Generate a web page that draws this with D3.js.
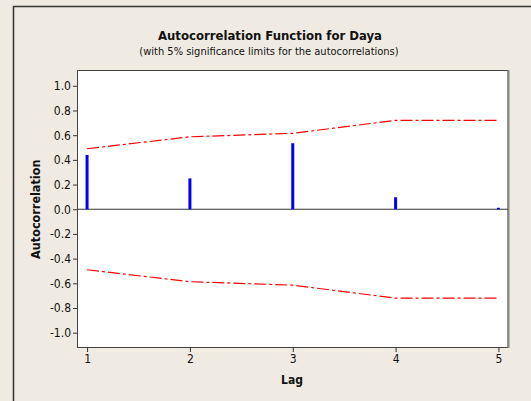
<!DOCTYPE html>
<html>
<head>
<meta charset="utf-8">
<script src="https://cdn.jsdelivr.net/npm/d3@7"></script>
<style>
  html, body { margin: 0; padding: 0; background: #efebe2; }
  svg { display: block; }
  text { font-family: "DejaVu Sans Condensed", "DejaVu Sans", sans-serif; fill: #111; }
</style>
</head>
<body>
<div id="chart"></div>
<script>
// ACF values
const lags = [1, 2, 3, 4, 5];
const acf = [0.44, 0.25, 0.535, 0.097, 0.012];
const upperLimit = [0.49, 0.587, 0.615, 0.72, 0.72];
const lowerLimit = [-0.49, -0.587, -0.615, -0.72, -0.72];
const yTicks = [1.0, 0.8, 0.6, 0.4, 0.2, 0.0, -0.2, -0.4, -0.6, -0.8, -1.0];

const W = 531, H = 401;
const plot = { left: 77.5, top: 70.5, right: 508, bottom: 347.5 };

const svg = d3.select('#chart').append('svg')
  .attr('width', W).attr('height', H);

// outer frame (left + top edges only visible)
svg.append('path')
  .attr('d', `M13.5,${H} V6.5 H${W}`)
  .attr('fill', 'none').attr('stroke', '#333').attr('stroke-width', 1.5);

const x = d3.scaleLinear().domain([0.907, 5.093]).range([plot.left, plot.right]);
const y = d3.scaleLinear().domain([-1.12, 1.124]).range([plot.bottom, plot.top]);

// plot background
svg.append('rect')
  .attr('x', plot.left).attr('y', plot.top)
  .attr('width', plot.right - plot.left).attr('height', plot.bottom - plot.top)
  .attr('fill', '#fff').attr('stroke', '#444').attr('stroke-width', 1);
svg.append('line')
  .attr('x1', plot.right + 0.5).attr('x2', plot.right + 0.5)
  .attr('y1', plot.top - 0.5).attr('y2', plot.bottom + 0.5)
  .attr('stroke', '#888').attr('stroke-width', 2);

// zero line
svg.append('line')
  .attr('x1', plot.left).attr('x2', plot.right)
  .attr('y1', y(0)).attr('y2', y(0))
  .attr('stroke', '#333').attr('stroke-width', 1.2);

// significance limits
const lim = d3.line().x((d, i) => x(lags[i])).y(d => y(d));
[upperLimit, lowerLimit].forEach(arr => {
  svg.append('path')
    .attr('d', lim(arr))
    .attr('fill', 'none')
    .attr('stroke', '#f00').attr('stroke-width', 1.2)
    .attr('stroke-dasharray', '12,3,3,3');
});

// ACF bars
svg.selectAll('.bar')
  .data(lags)
  .enter()
  .append('line')
  .attr('class', 'bar')
  .attr('x1', d => x(d)).attr('x2', d => x(d))
  .attr('y1', y(0))
  .attr('y2', (d, i) => y(acf[i]))
  .attr('stroke', '#0000ff').attr('stroke-width', 3);

// y axis (plain hyphen for negatives, like the original)
const fmt = d => d3.format('.1f')(d).replace('\u2212', '-');
const yAxis = svg.append('g')
  .attr('transform', `translate(${plot.left - 0.5},0)`)
  .call(d3.axisLeft(y).tickValues(yTicks).tickFormat(fmt).tickSize(4).tickPadding(2));
yAxis.select('.domain').remove();
yAxis.selectAll('text').style('font-size', '12px').attr('fill', '#111');
yAxis.selectAll('line').attr('stroke', '#333');

// x axis
const xAxis = svg.append('g')
  .attr('transform', `translate(0,${plot.bottom + 0.5})`)
  .call(d3.axisBottom(x).tickValues(lags).tickFormat(d3.format('d')).tickSize(4).tickPadding(2));
xAxis.select('.domain').remove();
xAxis.selectAll('text').style('font-size', '12px').attr('fill', '#111');
xAxis.selectAll('line').attr('stroke', '#333');

// titles
svg.append('text')
  .attr('x', 270).attr('y', 40)
  .attr('text-anchor', 'middle')
  .style('font-size', '13px').style('font-weight', 'bold')
  .text('Autocorrelation Function for Daya');
svg.append('text')
  .attr('x', 269).attr('y', 55)
  .attr('text-anchor', 'middle')
  .style('font-size', '11px')
  .text('(with 5% significance limits for the autocorrelations)');

svg.append('text')
  .attr('x', 292).attr('y', 384)
  .attr('text-anchor', 'middle')
  .style('font-size', '12px').style('font-weight', 'bold')
  .text('Lag');

svg.append('text')
  .attr('transform', `translate(40,${y(0)}) rotate(-90)`)
  .attr('text-anchor', 'middle')
  .style('font-size', '12.5px').style('font-weight', 'bold')
  .text('Autocorrelation');
</script>
</body>
</html>
